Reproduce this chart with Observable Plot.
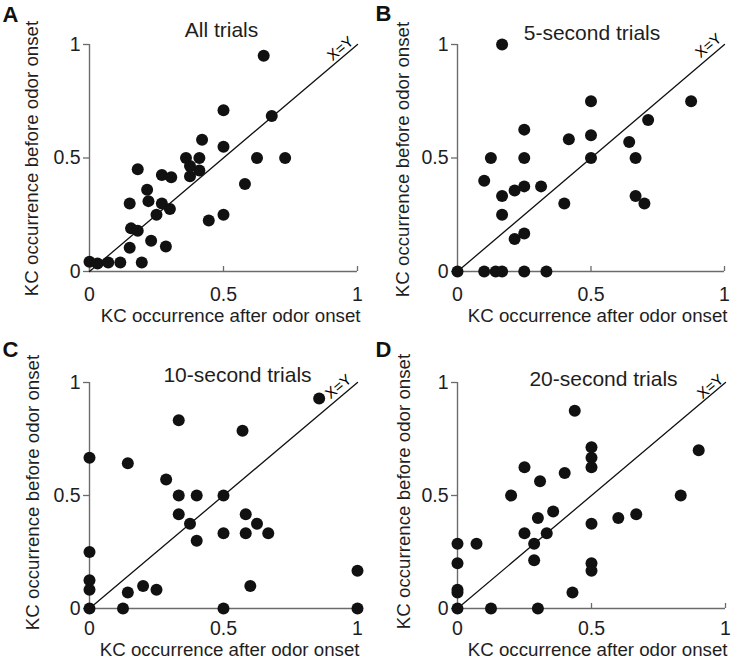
<!DOCTYPE html>
<html><head><meta charset="utf-8">
<script src="https://cdn.jsdelivr.net/npm/d3@7"></script>
<script src="https://cdn.jsdelivr.net/npm/@observablehq/plot@0.6"></script>
<style>
html,body{margin:0;padding:0;background:#fff;}
#wrap{position:relative;width:731px;height:662px;overflow:hidden;background:#fff;}
.panel{position:absolute;}
</style></head><body><div id="wrap"></div>
<script>
// ---- Data ----
const allX = [0.65,0.50,0.68,0.42,0.50,0.36,0.41,0.625,0.73,0.375,0.41,0.375,0.18,0.27,0.305,0.215,0.22,0.15,0.27,0.30,0.58,0.25,0.445,0.50,0.155,0.18,0.23,0.15,0.285,0.195,0.115,0.07,0.03,0.0];
const allY = [0.95,0.71,0.685,0.58,0.55,0.50,0.50,0.50,0.50,0.465,0.445,0.42,0.45,0.425,0.415,0.36,0.31,0.30,0.30,0.275,0.385,0.25,0.225,0.25,0.19,0.18,0.135,0.105,0.11,0.04,0.04,0.04,0.035,0.043];

const fiveX = [0.167,0.50,0.875,0.714,0.25,0.417,0.50,0.643,0.125,0.25,0.50,0.667,0.10,0.214,0.25,0.313,0.167,0.40,0.667,0.70,0.167,0.214,0.25,0.0,0.10,0.143,0.167,0.25,0.333];
const fiveY = [1.0,0.75,0.75,0.667,0.625,0.583,0.60,0.571,0.50,0.50,0.50,0.50,0.40,0.357,0.375,0.375,0.333,0.30,0.333,0.30,0.25,0.143,0.167,0.0,0.0,0.0,0.0,0.0,0.0];

const tenX = [0.857,0.333,0.571,0.0,0.143,0.286,0.333,0.40,0.50,0.333,0.583,0.375,0.625,0.40,0.50,0.583,0.667,0.0,0.0,0.0,1.0,0.60,0.143,0.20,0.25,0.0,0.125,0.50,1.0];
const tenY = [0.929,0.833,0.786,0.667,0.643,0.571,0.50,0.50,0.50,0.417,0.417,0.375,0.375,0.30,0.333,0.333,0.333,0.25,0.125,0.083,0.167,0.10,0.071,0.10,0.083,0.0,0.0,0.0,0.0];

const twentyX = [0.4375,0.90,0.50,0.50,0.50,0.25,0.40,0.308,0.20,0.833,0.357,0.30,0.60,0.667,0.50,0.25,0.333,0.286,0.071,0.0,0.0,0.286,0.50,0.50,0.0,0.0,0.429,0.0,0.125,0.30];
const twentyY = [0.875,0.70,0.714,0.667,0.625,0.625,0.60,0.563,0.50,0.50,0.429,0.40,0.40,0.417,0.375,0.333,0.333,0.286,0.286,0.286,0.20,0.214,0.20,0.167,0.083,0.071,0.071,0.0,0.0,0.0];

const tickValues = [0, 0.5, 1];
const tickLabels = ["0", "0.5", "1"];
const diagonal = [0, 1];
const xLabel = "KC occurrence after odor onset";
const yLabel = "KC occurrence before odor onset";
const diagLabel = "X=Y";
const panelLetters = ["A", "B", "C", "D"];
const panelTitles = ["All trials", "5-second trials", "10-second trials", "20-second trials"];
const panelXs = [allX, fiveX, tenX, twentyX];
const panelYs = [allY, fiveY, tenY, twentyY];

// ---- Layout ----
const layouts = [
  {left:0,   top:0,   w:365, h:331, mL:89, mR:8, mT:44, mB:60, pad:21, letter:[2,21.5],  title:[221,36],   ylab:[32,158], xlab:[360,321], xy:[340,48]},
  {left:365, top:0,   w:366, h:331, mL:92, mR:7, mT:44, mB:60, pad:21, letter:[10,20.5], title:[226.5,39], ylab:[38,159], xlab:[362,321], xy:[343,45]},
  {left:0,   top:331, w:365, h:331, mL:89, mR:8, mT:51, mB:54, pad:18, letter:[2,25],    title:[237,50],   ylab:[33,161], xlab:[359,324], xy:[338,55]},
  {left:365, top:331, w:366, h:331, mL:92, mR:6, mT:51, mB:54, pad:18, letter:[10,25],   title:[238,54],   ylab:[39,160], xlab:[362,324], xy:[345,55]}
];

const FONT = "'Liberation Sans', Arial, Helvetica, sans-serif";
const axisColor = "#6b6b6b";
const textColor = "#1e1e1e";

function textAt(lay, str, px, py, opts) {
  return Plot.text([str], {
    text: d => d,
    frameAnchor: "top-left",
    dx: px - lay.mL,
    dy: py - lay.mT,
    lineAnchor: "middle",
    fill: textColor,
    fontFamily: FONT,
    ...opts
  });
}

const wrap = document.getElementById("wrap");
layouts.forEach((lay, i) => {
  const data = panelXs[i].map((x, j) => ({x, y: panelYs[i][j]}));
  const fsTitle = 21, fsLab = 18.7, fsLetter = 22, fsXY = 15, fsTick = 19.5;
  const chart = Plot.plot({
    width: lay.w, height: lay.h,
    marginLeft: lay.mL, marginRight: lay.mR, marginTop: lay.mT, marginBottom: lay.mB,
    x: {domain: [0, 1]},
    y: {domain: [0, 1]},
    style: {fontFamily: FONT, fontSize: fsTick + "px", color: textColor, background: "white", overflow: "visible"},
    marks: [
      Plot.ruleY([0], {stroke: axisColor, strokeWidth: 1.4}),
      Plot.ruleX([0], {stroke: axisColor, strokeWidth: 1.4}),
      Plot.axisX({ticks: tickValues, tickFormat: d => tickLabels[tickValues.indexOf(d)], tickSize: -5, tickPadding: lay.pad, stroke: axisColor, strokeWidth: 1.3, label: null, fontSize: fsTick}),
      Plot.axisY({ticks: tickValues, tickFormat: d => tickLabels[tickValues.indexOf(d)], tickSize: 6, tickPadding: 3, stroke: axisColor, strokeWidth: 1.3, label: null, fontSize: fsTick}),
      Plot.line(diagonal.map(d => [d, d]), {stroke: "#111", strokeWidth: 1.3}),
      Plot.dot(data, {x: "x", y: "y", r: 6, fill: "#111", stroke: "none"}),
      textAt(lay, diagLabel, lay.xy[0], lay.xy[1], {rotate: -40, textAnchor: "middle", fontSize: fsXY, fill: "#000"}),
      textAt(lay, panelTitles[i], lay.title[0], lay.title[1] - 0.32 * fsTitle, {textAnchor: "middle", fontSize: fsTitle}),
      textAt(lay, xLabel, lay.xlab[0], lay.xlab[1] - 0.32 * fsLab, {textAnchor: "end", fontSize: fsLab}),
      textAt(lay, yLabel, lay.ylab[0], lay.ylab[1], {textAnchor: "middle", rotate: -90, fontSize: fsLab}),
      textAt(lay, panelLetters[i], lay.letter[0], lay.letter[1] - 0.32 * fsLetter, {textAnchor: "start", fontSize: fsLetter, fontWeight: "bold", fill: "#111"})
    ]
  });
  const div = document.createElement("div");
  div.className = "panel";
  div.style.left = lay.left + "px";
  div.style.top = lay.top + "px";
  div.appendChild(chart);
  wrap.appendChild(div);
});
</script>
</body></html>
